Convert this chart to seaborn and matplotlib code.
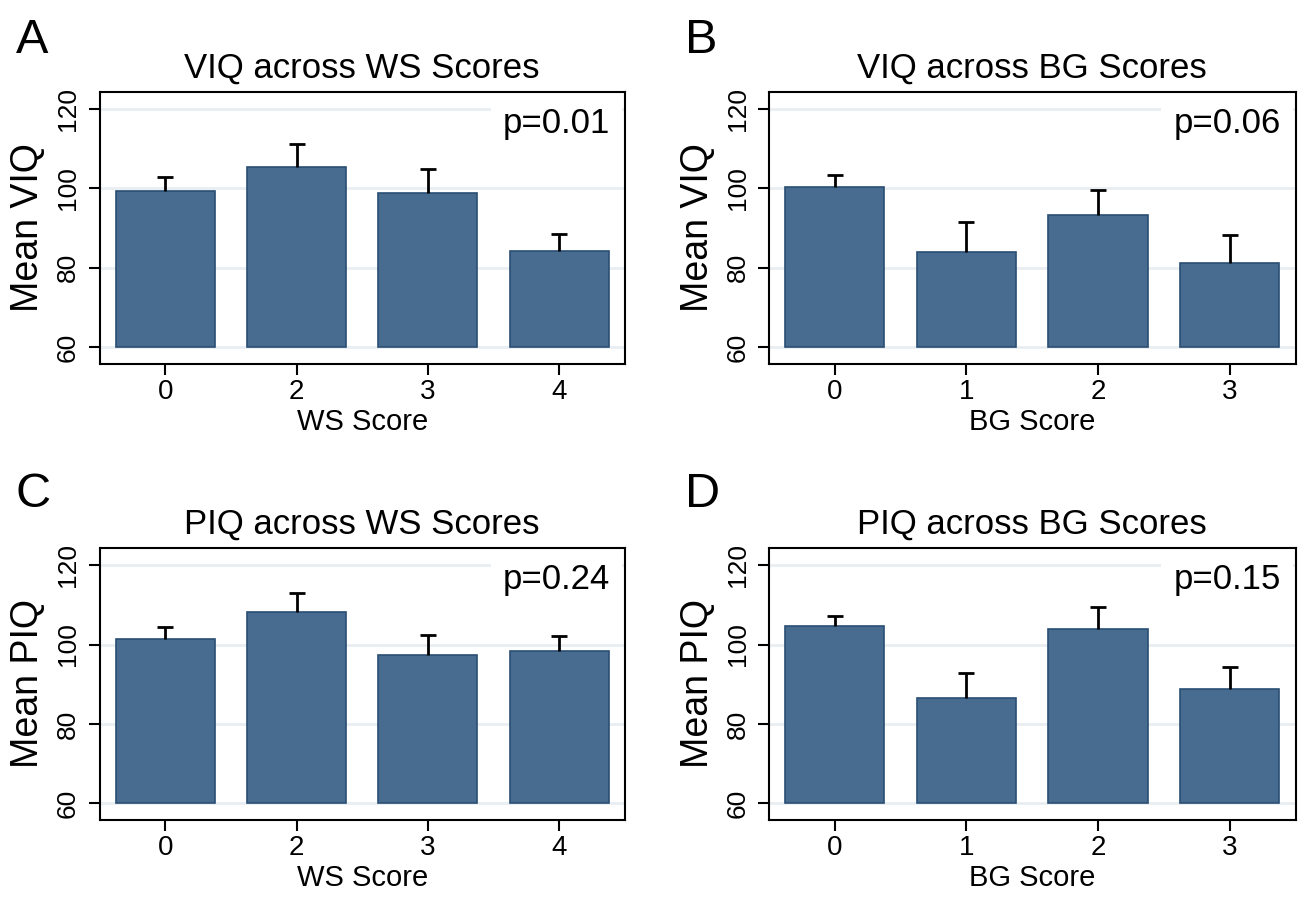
import numpy as np
import pandas as pd
import matplotlib
matplotlib.use('Agg')
import matplotlib.pyplot as plt
import seaborn as sns

# categories
ws_scores = ['0', '2', '3', '4']
bg_scores = ['0', '1', '2', '3']

# means and upper error lengths
viq_ws = [99.4, 105.5, 98.9, 84.3]
viq_ws_err = [3.5, 5.7, 6.0, 4.2]
viq_bg = [100.3, 83.9, 93.4, 81.2]
viq_bg_err = [3.1, 7.5, 6.1, 7.0]
piq_ws = [101.4, 108.1, 97.4, 98.3]
piq_ws_err = [3.0, 4.8, 5.1, 3.8]
piq_bg = [104.7, 86.5, 104.0, 88.8]
piq_bg_err = [2.5, 6.3, 5.4, 5.5]

p_values = ['p=0.01', 'p=0.06', 'p=0.24', 'p=0.15']

sns.set_style('ticks')
plt.rcParams['font.family'] = ['Liberation Sans', 'DejaVu Sans']
plt.rcParams['text.color'] = 'black'
plt.rcParams['axes.labelcolor'] = 'black'

bar_color = '#486c8f'
edge_color = '#2a4e73'
grid_color = '#e8eef2'
base = 60

panels = [
    ('A', 'VIQ across WS Scores', 'WS Score', 'Mean VIQ', ws_scores, viq_ws, viq_ws_err, p_values[0]),
    ('B', 'VIQ across BG Scores', 'BG Score', 'Mean VIQ', bg_scores, viq_bg, viq_bg_err, p_values[1]),
    ('C', 'PIQ across WS Scores', 'WS Score', 'Mean PIQ', ws_scores, piq_ws, piq_ws_err, p_values[2]),
    ('D', 'PIQ across BG Scores', 'BG Score', 'Mean PIQ', bg_scores, piq_bg, piq_bg_err, p_values[3]),
]

# axes rectangles (left, bottom, width, height) in figure fractions
rects = [
    [0.076, 0.595, 0.401, 0.303],
    [0.587, 0.595, 0.402, 0.303],
    [0.076, 0.087, 0.401, 0.303],
    [0.587, 0.087, 0.402, 0.303],
]
letter_pos = [(0.012, 0.941), (0.523, 0.941), (0.012, 0.435), (0.523, 0.435)]

fig = plt.figure(figsize=(13.1, 8.98), dpi=100)

for (letter, title, xlab, ylab, cats, vals, errs, ptxt), rect, lp in zip(panels, rects, letter_pos):
    ax = fig.add_axes(rect)
    df = pd.DataFrame({'score': cats, 'mean': vals})
    sns.barplot(data=df, x='score', y='mean', order=cats, color=bar_color,
                saturation=1, width=0.755, edgecolor=edge_color, linewidth=1.2,
                ax=ax, zorder=2)
    # bars start at 60 like in the original (Stata base)
    for p in ax.patches:
        p.set_y(base)
        p.set_height(p.get_height() - base)
    eb = ax.errorbar(np.arange(len(cats)), vals, yerr=[np.zeros(len(cats)), errs],
                     fmt='none', ecolor='black', elinewidth=2, capsize=5.5,
                     capthick=2, zorder=3)
    eb[1][0].set_visible(False)  # no cap at the bar top

    ax.set_ylim(55.8, 124.4)
    ax.set_xlim(-0.5, len(cats) - 0.5)
    ax.set_yticks([60, 80, 100, 120])
    ax.yaxis.grid(True, color=grid_color, linewidth=2)
    ax.set_axisbelow(True)

    for s in ax.spines.values():
        s.set_visible(True)
        s.set_color('black')
        s.set_linewidth(1.5)

    ax.tick_params(direction='out', length=8, width=1.5, color='black',
                   labelcolor='black')
    ax.tick_params(axis='x', pad=3, labelsize=20)
    ax.tick_params(axis='y', labelrotation=90, pad=6, labelsize=19)
    plt.setp(ax.get_yticklabels(), va='center')

    ax.set_title(title, fontsize=25, pad=10)
    ax.set_xlabel(xlab, fontsize=21, labelpad=2)
    ax.set_ylabel(ylab, fontsize=27, labelpad=7)

    ax.text(0.972, 0.882, ptxt, transform=ax.transAxes, ha='right', va='center',
            fontsize=25, zorder=4,
            bbox=dict(boxstyle='square,pad=0.35', fc='white', ec='none'))

    fig.text(lp[0], lp[1], letter, fontsize=35, va='baseline', ha='left')

plt.savefig('out.png', dpi=100)
